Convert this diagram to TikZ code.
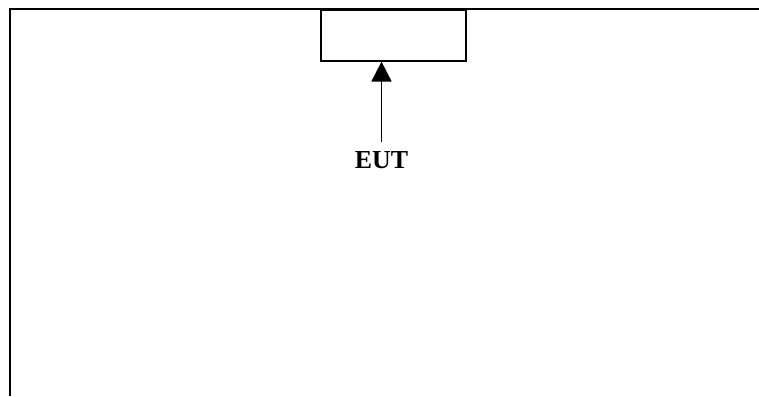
\documentclass[tikz,border=0pt]{standalone}
\usepackage{fontspec}
\setmainfont{Liberation Serif}
\usetikzlibrary{arrows.meta}
\begin{document}
\begin{tikzpicture}[x=1bp,y=-1bp,
  wall/.style={line width=1.8bp,black},
  eutbox/.style={draw,line width=1.6bp,minimum width=145bp,minimum height=51bp,inner sep=0pt,anchor=north west},
  arr/.style={line width=1.8bp,-{Triangle[length=20bp,width=20bp]}},
  lbl/.style={font=\bfseries\fontsize{26}{28}\selectfont,inner sep=0pt,anchor=base}]
\useasboundingbox (0,0) rectangle (759,396);
\coordinate (tl) at (10,9);
\coordinate (tr) at (759,9);
\coordinate (bl) at (10,396);
\draw[wall] (bl) -- (tl) -- (tr);
\node[eutbox] (box) at (320,9) {};
\node[lbl] (eut) at (381.5,168) {EUT};
\coordinate (tail) at (381.5,142);
\draw[arr] (tail) -- (tail |- box.south);
\end{tikzpicture}
\end{document}
